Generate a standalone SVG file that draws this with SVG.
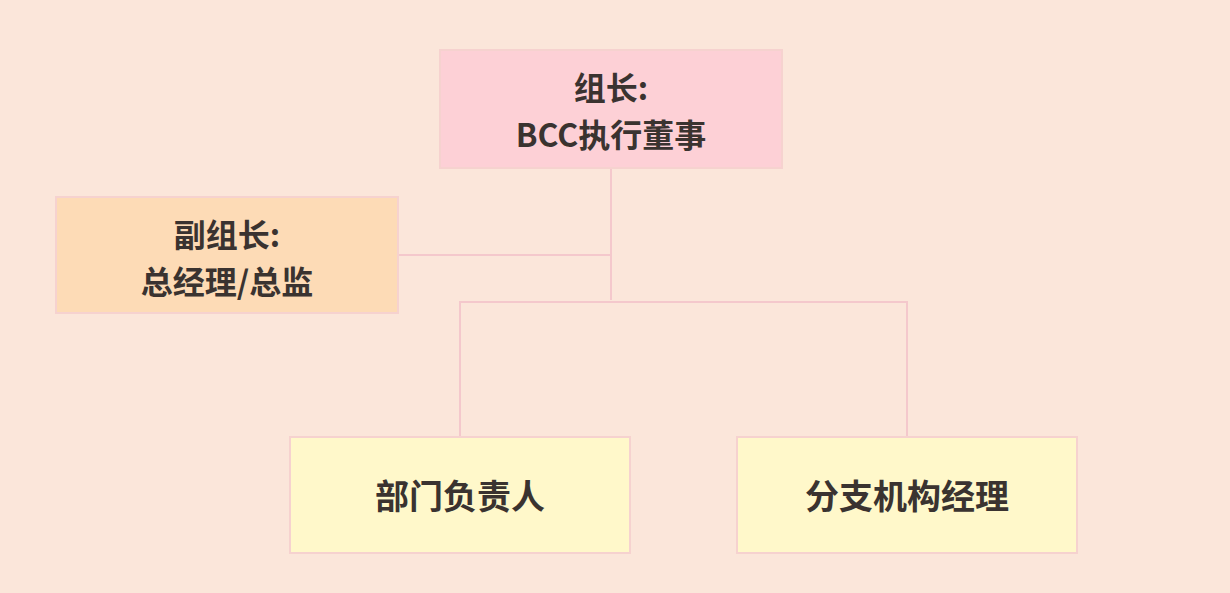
<svg xmlns="http://www.w3.org/2000/svg" width="1230" height="593" viewBox="0 0 1230 593">
<style>
.t{font-family:"Noto Sans CJK SC","Noto Sans",sans-serif;font-weight:bold;font-size:34px;fill:#3a3330;text-anchor:middle}
.t2{font-size:32px}
.c{stroke:#f4c8cc;stroke-width:2;fill:none}
.box{stroke:#f6d2cf;stroke-width:2}
</style>
<rect width="1230" height="593" fill="#fbe6da"/>
<g id="connectors">
<path class="c" d="M611 168V300"/>
<path class="c" d="M398 255H611"/>
<path class="c" d="M460 437V302H907V437"/>
</g>
<g id="n1">
<rect class="box" x="440" y="50" width="342" height="118" fill="#fdd0d6"/>
<text class="t t2" x="611" y="100">组长:</text>
<text class="t t2" x="611" y="147">BCC执行董事</text>
</g>
<g id="n2">
<rect class="box" x="56" y="197" width="342" height="116" fill="#fddbb6"/>
<text class="t t2" x="227" y="247">副组长:</text>
<text class="t t2" x="227" y="294">总经理/总监</text>
</g>
<g id="n3">
<rect class="box" x="290" y="437" width="340" height="116" fill="#fff8ca"/>
<text class="t" x="460" y="509">部门负责人</text>
</g>
<g id="n4">
<rect class="box" x="737" y="437" width="340" height="116" fill="#fff8ca"/>
<text class="t" x="907" y="509">分支机构经理</text>
</g>
</svg>
